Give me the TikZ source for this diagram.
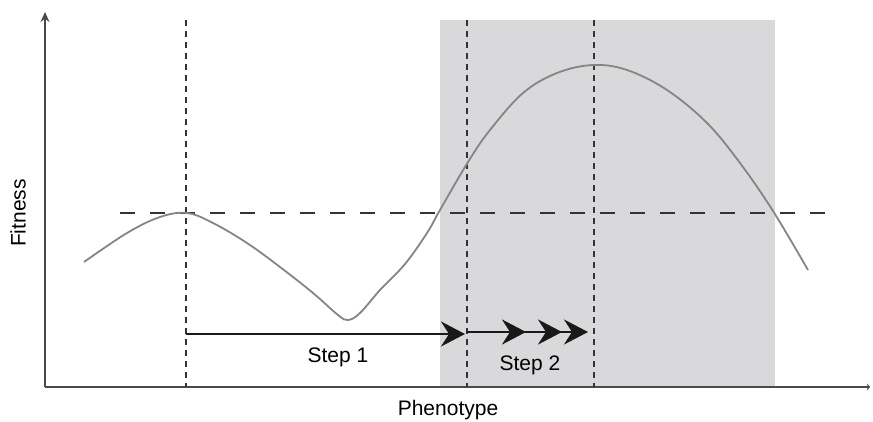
\documentclass[tikz,border=0pt]{standalone}
\usepackage{fontspec}
\setmainfont{Liberation Sans}
\usetikzlibrary{arrows.meta,decorations.markings}
\definecolor{band}{HTML}{D9D9DB}
\definecolor{curvegray}{HTML}{858585}
\definecolor{axisgray}{HTML}{4A4A4A}
\tikzset{
  axisline/.style={draw=axisgray, line width=1.4pt},
  vdash/.style={draw=black!80, line width=1.1pt, dash pattern=on 6pt off 5pt},
  hdash/.style={draw=black!80, line width=1.1pt, dash pattern=on 15pt off 15pt},
  fitcurve/.style={draw=curvegray, line width=1.8pt},
  steparrow/.style={draw=black!90, line width=2.4pt},
  headtip/.tip={Stealth[length=24pt,width=25pt,inset=8pt]},
  bighead/.style={-headtip},
  lbl/.style={font=\fontsize{21}{25}\selectfont, inner sep=0pt}
}
\begin{document}
\begin{tikzpicture}[x=1pt,y=-1pt]
\useasboundingbox (0,0) rectangle (873,421);
% shaded band
\fill[band] (440,20) rectangle (775,387);
% axes
\coordinate (O) at (45,387);
\coordinate (ytop) at (45,12);
\coordinate (xend) at (870,387);
\draw[axisline, -{Stealth[length=10pt,width=9pt]}] (O) -- (ytop);
\draw[axisline, -{Stealth[length=3pt,width=7pt]}] (O) -- (xend);
% dashed guides
\coordinate (v1t) at (186,20); \coordinate (v1b) at (186,387);
\coordinate (v2t) at (467,20); \coordinate (v2b) at (467,387);
\coordinate (v3t) at (594,20); \coordinate (v3b) at (594,387);
\coordinate (hl) at (120,213); \coordinate (hr) at (830,213);
\draw[vdash] (v1t) -- (v1b);
\draw[vdash] (v2t) -- (v2b);
\draw[vdash] (v3t) -- (v3b);
\draw[hdash] (hl) -- (hr);
% fitness curve
\draw[fitcurve] plot[smooth, tension=0.6] coordinates {
 (84,262) (127,233) (160,217) (187,213) (213,223) (247,243) (280,267)
 (313,293) (338,315) (348,320) (360,313) (380,290) (405,264) (427,233)
 (440,210) (468,162) (490,130) (523,93) (557,73) (593,65) (627,70)
 (667,90) (707,123) (740,163) (773,211) (808,270)};
% step arrows
\coordinate (s1a) at (186,334);
\coordinate (s1b) at (465,334);
\draw[steparrow, bighead] (s1a) -- (s1b);
\coordinate (s2a) at (467,332);
\coordinate (s2b) at (588,332);
\draw[steparrow, bighead,
  postaction={decorate, decoration={markings,
    mark=at position 59pt with {\arrow{headtip}},
    mark=at position 95pt with {\arrow{headtip}}}}]
  (s2a) -- (s2b);
% labels
\node[lbl] (st1) at (338,357) {Step 1};
\node[lbl] (st2) at (530,365) {Step 2};
\node[lbl] (xl) at (448,410) {Phenotype};
\node[lbl, rotate=90] (yl) at (18,213) {Fitness};
\end{tikzpicture}
\end{document}
